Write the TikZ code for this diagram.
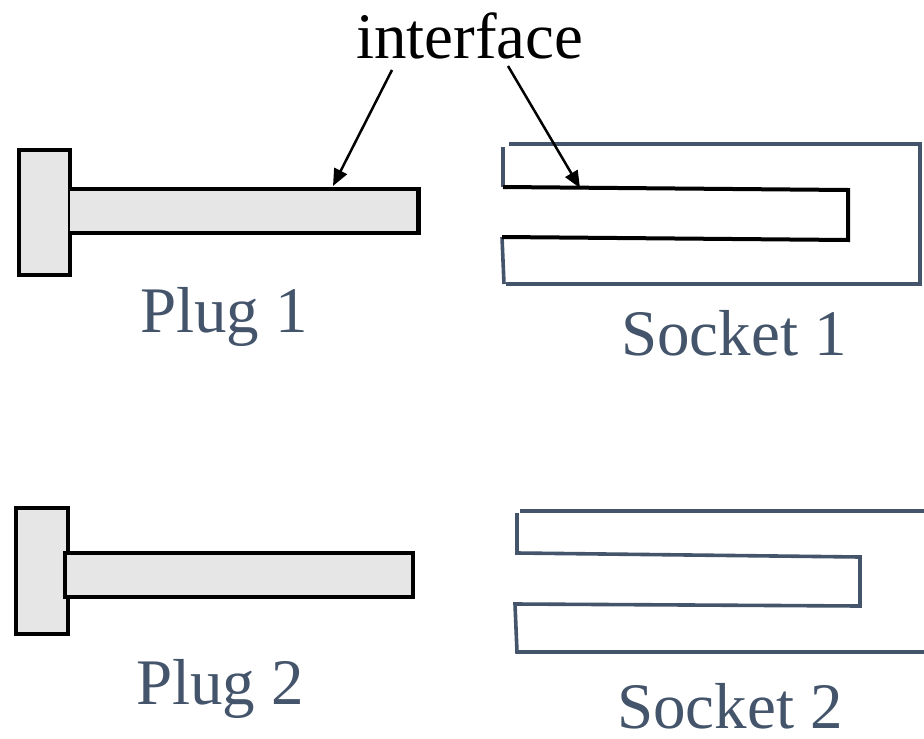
\documentclass[tikz,border=0pt]{standalone}
\usepackage{fontspec}
\setmainfont{Liberation Serif}
\usetikzlibrary{arrows.meta}
\definecolor{slate}{HTML}{44546A}
\definecolor{plugfill}{HTML}{E6E6E6}
\begin{document}
\begin{tikzpicture}[x=1pt,y=-1pt,
  plug/.style={fill=plugfill,draw=black,line width=4pt},
  sock/.style={draw=slate,line width=3.6pt},
  innerwall/.style={draw=black,line width=4pt},
  lbl/.style={text=slate,font=\fontsize{65}{70}\selectfont,anchor=base west,inner sep=0pt},
  ptr/.style={draw=black,line width=2.5pt,-{Triangle[length=17pt,width=14pt]}}]
\useasboundingbox (0,0) rectangle (924,739);
% Plug 1
\draw[plug] (19,150) rectangle (70,275);
\fill[plugfill] (70,189) rectangle (418,233);
\draw[line width=4pt] (70,189) -- (418,189) (70,233) -- (418,233);
\draw[line width=5pt] (418,187) -- (418,235);
% Socket 1
\draw[sock] (509,144) -- (920,144) -- (920,284) -- (506,284);
\draw[sock] (504,284) -- (502,237);
\draw[sock] (503,187) -- (503,147);
\draw[innerwall] (503,187) -- (848,190) -- (848,240) -- (502,237);
% Plug 2
\draw[plug] (16,508) rectangle (68,634);
\draw[plug] (65,553) rectangle (413,597);
% Socket 2
\draw[sock] (520,511) -- (924,511);
\draw[sock] (517,513) -- (517,553) -- (860,557) -- (860,606) -- (515,604) -- (517,652) -- (924,652);
% Labels
\node[lbl,text=black] (iface) at (356,58) {interface};
\node[lbl] (p1) at (140,332) {Plug 1};
\node[lbl] (s1) at (621,355) {Socket 1};
\node[lbl] (p2) at (136,704) {Plug 2};
\node[lbl] (s2) at (617,728) {Socket 2};
% Arrows
\coordinate (a1s) at (392,70);
\coordinate (a1e) at (333,186);
\coordinate (a2s) at (508,66);
\coordinate (a2e) at (580,188);
\draw[ptr] (a1s) -- (a1e);
\draw[ptr] (a2s) -- (a2e);
\end{tikzpicture}
\end{document}
